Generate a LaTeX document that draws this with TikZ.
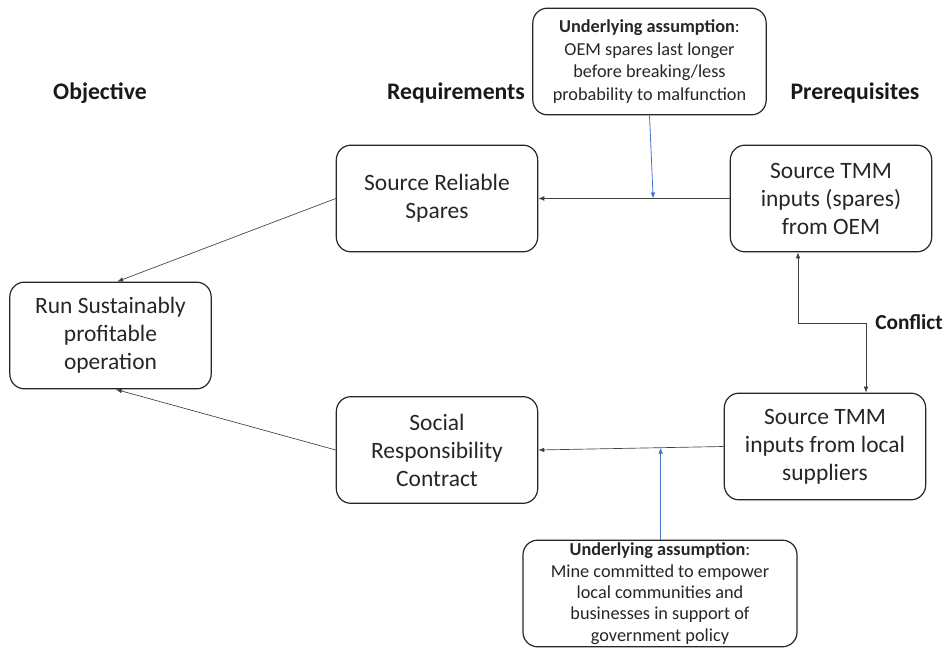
\documentclass[tikz,border=0pt]{standalone}
\usepackage{fontspec}
\setmainfont{Carlito}
\usetikzlibrary{arrows.meta,calc}
\definecolor{asmblue}{RGB}{68,114,196}

\begin{document}
\begin{tikzpicture}[x=0.75pt,y=-0.75pt]
\tikzstyle{every node}+=[inner sep=0pt]
\tikzstyle{box}=[draw=black!85, line width=0.9pt, rounded corners=11pt, align=center, text=black!85, font=\fontsize{17.6}{21}\selectfont, minimum width=151pt, minimum height=80pt]
\tikzstyle{asm}=[box, font=\fontsize{13.7}{17}\selectfont]
\tikzstyle{head}=[font=\fontsize{17.8}{20}\selectfont\bfseries, text=black!90]
\tikzstyle{arr}=[draw=black!75, line width=0.5pt, -{Latex[length=4.5pt,width=3.5pt]}]
\tikzstyle{arrboth}=[draw=black!75, line width=0.5pt, {Latex[length=4.5pt,width=3.5pt]}-{Latex[length=4.5pt,width=3.5pt]}]
\tikzstyle{bluearr}=[draw=asmblue, line width=0.6pt, -{Latex[length=4.5pt,width=3.5pt]}]
\useasboundingbox (0,0) rectangle (946,648);
% column heads
\node[head] (objective) at (100,93) {Objective};
\node[head] (requirements) at (456,93) {Requirements};
\node[head] (prerequisites) at (855,93) {Prerequisites};
\node[head, font=\fontsize{16}{19}\selectfont\bfseries, anchor=west] (conflict) at (875,322) {Conflict};
% boxes
\node[box] (run) at (110.5,335.5) {Run Sustainably\\profitable\\operation};
\node[box] (srs) at (437,198.5) {Source Reliable\\Spares};
\node[box] (src) at (437,450) {Social\\Responsibility\\Contract};
\node[box] (oem) at (831,198.5) {Source TMM\\inputs (spares)\\from OEM};
\node[box] (local) at (825,446.5) {Source TMM\\inputs from local\\suppliers};
\node[asm, minimum width=175pt] (asmtop) at (649.5,61.5) {\textbf{Underlying assumption}:\\OEM spares last longer\\before breaking/less\\probability to malfunction};
\node[asm, minimum width=205.5pt, font=\fontsize{13.7}{16}\selectfont] (asmbot) at (660,593.5) {\textbf{Underlying assumption}:\\Mine committed to empower\\local communities and\\businesses in support of\\government policy};
% connectors
\draw[arr] (srs.west) -- ([xshift=5pt]run.north);
\draw[arr] (src.west) -- ([xshift=4pt]run.south);
\draw[arr] (oem.west) -- (srs.east);
\draw[arr] (local.west) -- (src.east);
\coordinate (oemhit) at ($(oem.west)!0.4!(srs.east)$);
\coordinate (localhit) at ($(local.west)!0.34!(src.east)$);
\draw[bluearr] (asmtop.south) -- (oemhit);
\draw[bluearr] (localhit |- asmbot.north) -- (localhit);
\draw[arrboth] ([xshift=-24.75pt]oem.south) -- ++(0,71) -| ([xshift=30.75pt]local.north);
\end{tikzpicture}
\end{document}
